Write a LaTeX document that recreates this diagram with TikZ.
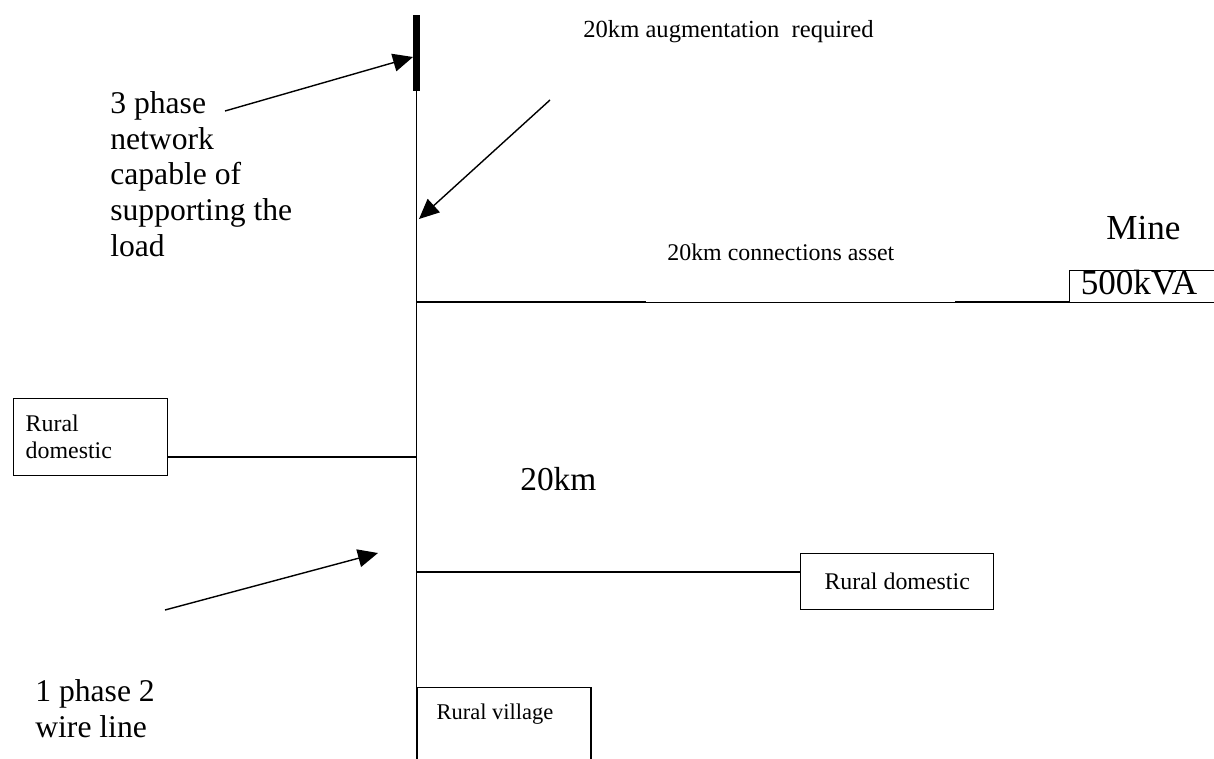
\documentclass[tikz,border=0pt]{standalone}
\usepackage{fontspec}
\setmainfont{Liberation Serif}
\usetikzlibrary{arrows.meta}
\tikzset{
  bigtext/.style={font=\fontsize{18}{20.4}\selectfont, inner sep=0pt, align=left},
  largetext/.style={font=\fontsize{20}{23}\selectfont, inner sep=0pt},
  smalltext/.style={font=\fontsize{13.6}{15.3}\selectfont, inner sep=0pt},
  loadbox/.style={draw, line width=0.8pt, inner sep=0pt, anchor=north west},
  feeder/.style={line width=0.8pt},
  pointer/.style={line width=0.8pt, -{Triangle[length=0.4cm,width=0.36cm]}}
}
\begin{document}
\begin{tikzpicture}[x=0.02cm, y=-0.02cm]
    \useasboundingbox (0,0) rectangle (1214,758);
    \clip (0,0) rectangle (1214,758);
    % Draw the 3 phase end and the main line
    \coordinate (bartop) at (416.5,15);
    \coordinate (barbot) at (416.5,91);
    \coordinate (linebot) at (416.5,770);
    \draw [line width=4.5pt] (bartop) -- (barbot);
    \draw [feeder] (barbot) -- (linebot);
    % Junctions on the main line
    \coordinate (jmine) at (416.5,302);
    \coordinate (jleft) at (416.5,457);
    \coordinate (jright) at (416.5,572);
    \coordinate (segA) at (646,302);
    \coordinate (segB) at (955,302);

    % Draw the loads
    \node [loadbox, minimum width=3.6cm, minimum height=0.64cm] (minebox) at (1069,270) {};
    \node [largetext, anchor=base] (kva) at (1139,294) {500kVA};
    \node [largetext, anchor=base west] (mine) at (1106,239) {Mine};
    \node [loadbox, smalltext, align=left, text width=2.6cm, minimum width=3.08cm,
           minimum height=1.54cm] (ruralA) at (13,398) {Rural\\domestic};
    \node [loadbox, smalltext, minimum width=3.86cm, minimum height=1.12cm] (ruralB) at (800,553) {Rural domestic};
    \node [loadbox, minimum width=3.48cm, minimum height=2cm] (village) at (416.5,687) {};
    \node [smalltext, font=\fontsize{12.8}{15}\selectfont, anchor=base] (villagetxt) at (495,719) {Rural village};

    % Draw the feeders
    \draw [feeder] (jmine) -- (segA);
    \draw [line width=0.55pt] (segA) -- (segB);
    \draw [feeder] (segB) -- (segB -| minebox.west);
    \draw [feeder] (jleft) -- (ruralA.east |- jleft);
    \draw [feeder] (jright) -- (ruralB.west |- jright);

    % Labels
    \node [bigtext, anchor=north west] (threephase) at (110,91) {3 phase\\network\\capable of\\supporting the\\load};
    \node [smalltext, font=\fontsize{14}{16}\selectfont, anchor=base west] (augment) at (583,37) {20km augmentation\hspace{0.5em}required};
    \node [smalltext, anchor=base west] (asset) at (667,260) {20km connections asset};
    \node [largetext, font=\fontsize{19}{22}\selectfont, anchor=base west] (dist) at (520,490) {20km};
    \node [bigtext, anchor=north west] (onephase) at (35,679) {1 phase 2\\wire line};

    % Draw the pointers
    \coordinate (threetail) at (225,111);
    \coordinate (barhit) at (413,57);
    \coordinate (augtail) at (550,100);
    \coordinate (linehit) at (419,219);
    \coordinate (onetail) at (165,610);
    \coordinate (onehit) at (378,553);
    \draw [pointer] (threetail) -- (barhit);
    \draw [pointer] (augtail) -- (linehit);
    \draw [pointer] (onetail) -- (onehit);
\end{tikzpicture}
\end{document}
